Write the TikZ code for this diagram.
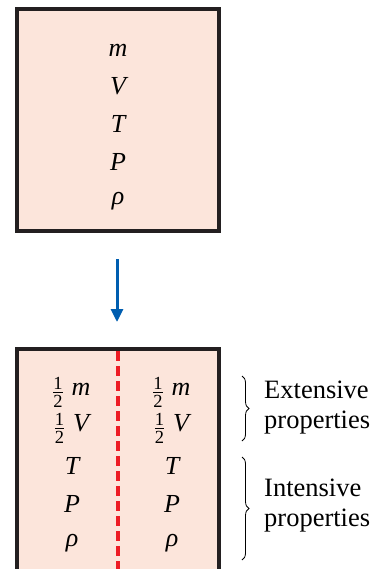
\documentclass[tikz,border=0pt]{standalone}
\usepackage{fontspec}
\setmainfont{Liberation Serif}
\usetikzlibrary{arrows.meta,decorations.pathreplacing}
\definecolor{boxfill}{RGB}{252,229,219}
\definecolor{boxline}{RGB}{35,31,32}
\definecolor{splitred}{RGB}{237,28,36}
\definecolor{arrowblue}{RGB}{0,94,176}
\newcommand{\halffrac}{{\fontsize{18.5}{18.5}\selectfont\upshape
  \raisebox{-0.4\height}{\vbox{\hbox{1}\kern2.5pt\hrule height 0.7pt\kern2.5pt\hbox{2}}}}}
\newcommand{\halfof}[1]{\halffrac\hspace{9pt}\textit{#1}}

\begin{document}
\begin{tikzpicture}[x=1pt,y=-1pt,
  qty/.style={font=\fontsize{26}{30}\selectfont\itshape,inner sep=0pt},
  lbl/.style={font=\fontsize{26.5}{30}\selectfont,align=left,anchor=west,inner sep=0pt},
  wall/.style={draw=boxline,line width=3.5pt},
  brc/.style={decorate,decoration={brace,amplitude=7pt},line width=0.8pt}
]
\useasboundingbox (0,0) rectangle (380,569);
% system before the split
\node[wall,fill=boxfill,minimum width=202pt,minimum height=222pt,inner sep=0pt] (whole) at (118,120) {};
\node[qty] (m) at (118,50) {m};
\node[qty] (V) at (118,86) {V};
\node[qty] (T) at (118,124) {T};
\node[qty] (P) at (118,162) {P};
\node[qty] (rho) at (118,201) {ρ};

% arrow
\coordinate (arrtop) at (117,259);
\coordinate (arrbot) at (117,322);
\draw[arrowblue,line width=3pt,-{Triangle[length=13pt,width=12pt]}] (arrtop) -- (arrbot);

% system after the split (open at the bottom)
\coordinate (bl) at (17,575);
\coordinate (tl) at (17,349);
\coordinate (tr) at (219,349);
\coordinate (br) at (219,575);
\fill[boxfill] (bl) rectangle (tr);
\draw[wall] (bl) -- (tl) -- (tr) -- (br);
\coordinate (cuttop) at (118,351);
\coordinate (cutbot) at (118,575);
\draw[splitred,line width=3.5pt,dash pattern=on 10pt off 5pt] (cuttop) -- (cutbot);

\foreach \side/\x in {L/72,R/172}{
  \node[qty] (hm\side) at (\x,392) {\halfof{m}};
  \node[qty] (hV\side) at (\x,428) {\halfof{V}};
  \node[qty] (T\side) at (\x,466) {T};
  \node[qty] (P\side) at (\x,504) {P};
  \node[qty] (rho\side) at (\x,543) {ρ};
}

% braces and labels
\coordinate (exttop) at (242,376);
\coordinate (extbot) at (242,441);
\coordinate (inttop) at (242,457);
\coordinate (intbot) at (242,560);
\draw[brc] (exttop) -- (extbot);
\draw[brc] (inttop) -- (intbot);
\node[lbl] (ext) at (264,408) {Extensive\\properties};
\node[lbl] (int) at (264,506) {Intensive\\properties};
\end{tikzpicture}
\end{document}
